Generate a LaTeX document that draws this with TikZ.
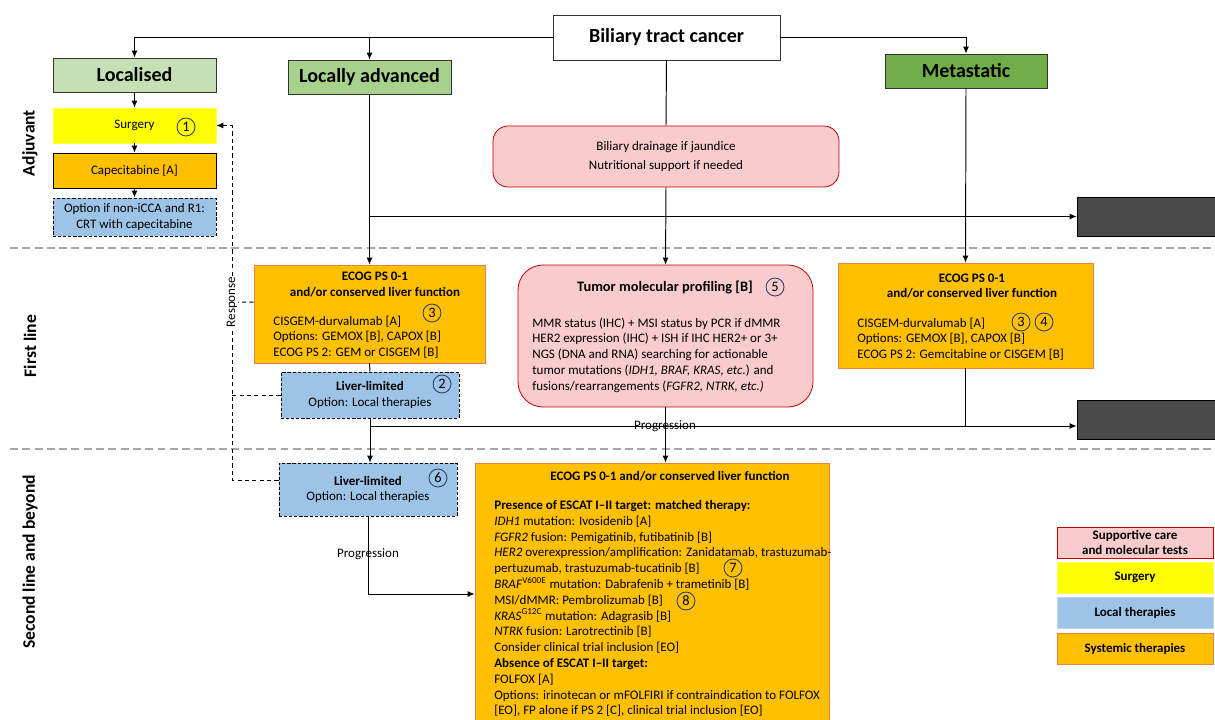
\documentclass[tikz,border=0pt]{standalone}
\usepackage{fontspec}
\setmainfont{Carlito}
\usetikzlibrary{arrows.meta}
\definecolor{stageA}{HTML}{C5E0B4}
\definecolor{stageB}{HTML}{A9D18E}
\definecolor{stageC}{HTML}{70AD47}
\definecolor{surgY}{HTML}{FFFF00}
\definecolor{sysO}{HTML}{FFC000}
\definecolor{sysEdge}{HTML}{E9804A}
\definecolor{locB}{HTML}{9DC3E6}
\definecolor{suppP}{HTML}{F8CBCC}
\definecolor{suppR}{HTML}{C00000}
\definecolor{darkG}{HTML}{4A4A4A}
\definecolor{sepG}{HTML}{A6A6A6}
\definecolor{numB}{HTML}{203864}
\tikzset{
  % testo normale e titoli
  txt/.style={inner sep=0pt, align=left, font=\fontsize{7.4}{9}\selectfont},
  ttl/.style={inner sep=0pt, align=center, font=\fontsize{7.4}{8.6}\selectfont\bfseries},
  % scatole
  box/.style={draw=black, line width=0.45pt, inner sep=1pt, align=center,
    font=\fontsize{7.4}{9}\selectfont},
  stage/.style={box, draw=black!80, fill=#1, minimum width=3.26cm, minimum height=0.68cm,
    font=\fontsize{11.4}{13}\selectfont\bfseries},
  surgbox/.style={box, draw=surgY!70!white, fill=surgY},
  sysbox/.style={box, draw=sysEdge, fill=sysO},
  localbox/.style={box, dash pattern=on 1.8pt off 1.1pt, fill=locB},
  suppbox/.style={box, draw=suppR, fill=suppP, rounded corners=#1},
  darkbox/.style={box, fill=darkG, minimum width=3.26cm, minimum height=0.78cm},
  legbox/.style={box, fill=#1, minimum width=3.12cm, minimum height=0.62cm,
    font=\fontsize{7.4}{8.6}\selectfont\bfseries},
  numc/.style={circle, draw=numB, line width=0.45pt, inner sep=0pt, minimum size=0.36cm,
    font=\fontsize{8.2}{9}\selectfont},
  sect/.style={rotate=90, font=\fontsize{10}{12}\selectfont\bfseries},
  % frecce e linee
  arr/.style={line width=0.55pt, -{Latex[length=4pt,width=3.4pt]}},
  link/.style={line width=0.55pt},
  dasharr/.style={line width=0.55pt, dash pattern=on 2.4pt off 1.8pt, -{Latex[length=4pt,width=3.4pt]}},
  dashlink/.style={line width=0.55pt, dash pattern=on 2.4pt off 1.8pt},
  sepline/.style={sepG, line width=0.7pt, dash pattern=on 4.5pt off 2.5pt},
  lbl/.style={inner sep=0.5pt, font=\fontsize{7.4}{9}\selectfont}
}
\begin{document}
\begin{tikzpicture}[x=0.02cm, y=-0.02cm]
  \useasboundingbox (0,0) rectangle (1215,720);
  \clip (0,0) rectangle (1215,720);

  % separatori delle fasi
  \draw[sepline] (10,248) -- (1215,248);
  \draw[sepline] (10,449) -- (1215,449);
  \node[sect] (sAdj) at (30,143) {Adjuvant};
  \node[sect] (sFirst) at (30,346) {First line};
  \node[sect] (sSecond) at (30,562) {Second line and beyond};

  % diagnosi e stadi
  \node[box, draw=black!80, fill=white, minimum width=4.54cm, minimum height=0.9cm,
    font=\fontsize{11.4}{13}\selectfont\bfseries] (btc) at (666.5,37.5) {Biliary tract cancer};
  \node[stage=stageA] (loc) at (134.5,75) {Localised};
  \node[stage=stageB] (locadv) at (369.5,77) {Locally advanced};
  \node[stage=stageC, minimum width=3.24cm] (meta) at (966,71) {Metastatic};

  % adiuvante
  \node[surgbox, minimum width=3.26cm, minimum height=0.7cm] (surg) at (134.5,125.5) {Surgery};
  \node[numc] (n1) at (186,127) {1};
  \node[box, fill=sysO, minimum width=3.26cm, minimum height=0.7cm] (cape) at (134.5,170.5) {Capecitabine [A]};
  \node[localbox, minimum width=3.26cm, minimum height=0.76cm] (opt) at (134.5,217)
    {Option if non-iCCA and R1:\\CRT with capecitabine};

  \node[suppbox=0.3cm, minimum width=6.92cm, minimum height=1.22cm] (drain) at (666,156.5)
    {Biliary drainage if jaundice\\[2pt]Nutritional support if needed};
  \node[darkbox] (dark1) at (1158.5,216.5) {};

  % prima linea
  \node[sysbox, minimum width=4.62cm, minimum height=1.96cm] (ecogL) at (369.5,314) {};
  \node[ttl] (ecogLt) at (375,284.5) {ECOG PS 0-1\\and/or conserved liver function};
  \node[txt, anchor=west] (ecogLb) at (273,337)
    {CISGEM-durvalumab [A]\\Options: GEMOX [B], CAPOX [B]\\ECOG PS 2: GEM or CISGEM [B]};
  \node[numc] (n3a) at (432,313) {3};

  \node[localbox, minimum width=3.56cm, minimum height=0.92cm] (liv1) at (370,395)
    {\textbf{Liver-limited}\\Option: Local therapies};
  \node[numc] (n2) at (442,384) {2};

  \node[suppbox=0.5cm, minimum width=5.9cm, minimum height=2.84cm] (mol) at (665.5,336) {};
  \node[ttl, font=\fontsize{8.2}{10}\selectfont\bfseries] (molt) at (665,287) {Tumor molecular profiling [B]};
  \node[numc] (n5) at (775,287) {5};
  \node[txt, anchor=west] (molb) at (532,355)
    {MMR status (IHC) + MSI status by PCR if dMMR\\
     HER2 expression (IHC) + ISH if IHC HER2+ or 3+\\
     NGS (DNA and RNA) searching for actionable\\
     tumor mutations (\textit{IDH1, BRAF, KRAS, etc.}) and\\
     fusions/rearrangements (\textit{FGFR2, NTRK, etc.)}};

  \node[sysbox, minimum width=5.1cm, minimum height=2.1cm] (ecogR) at (965.5,315.5) {};
  \node[ttl] (ecogRt) at (972,286) {ECOG PS 0-1\\and/or conserved liver function};
  \node[txt, anchor=west] (ecogRb) at (857,339)
    {CISGEM-durvalumab [A]\\Options: GEMOX [B], CAPOX [B]\\ECOG PS 2: Gemcitabine or CISGEM [B]};
  \node[numc] (n3b) at (1021,322) {3};
  \node[numc] (n4) at (1044,322) {4};

  \node[darkbox] (dark2) at (1158.5,419.5) {};

  % seconda linea
  \node[localbox, minimum width=3.56cm, minimum height=1.06cm] (liv2) at (368,489.5)
    {\textbf{Liver-limited}\\Option: Local therapies};
  \node[numc] (n6) at (438,478) {6};

  \node[sysbox, minimum width=7.08cm, minimum height=5.24cm] (big) at (652,594) {};
  \node[ttl] (bigt) at (670,476) {ECOG PS 0-1 and/or conserved liver function};
  \node[txt, anchor=west] (bigb) at (494,608.5)
    {\textbf{Presence of ESCAT I–II target: matched therapy:}\\
     \textit{IDH1} mutation: Ivosidenib [A]\\
     \textit{FGFR2} fusion: Pemigatinib, futibatinib [B]\\
     \textit{HER2} overexpression/amplification: Zanidatamab, trastuzumab-\\
     pertuzumab, trastuzumab-tucatinib [B]\\
     \textit{BRAF}\textsuperscript{V600E} mutation: Dabrafenib + trametinib [B]\\
     MSI/dMMR: Pembrolizumab [B]\\
     \textit{KRAS}\textsuperscript{G12C} mutation: Adagrasib [B]\\
     \textit{NTRK} fusion: Larotrectinib [B]\\
     Consider clinical trial inclusion [EO]\\
     \textbf{Absence of ESCAT I–II target:}\\
     FOLFOX [A]\\
     Options: irinotecan or mFOLFIRI if contraindication to FOLFOX\\
     {[EO]}, FP alone if PS 2 [C], clinical trial inclusion [EO]};
  \node[numc] (n7) at (733,568) {7};
  \node[numc] (n8) at (686,601) {8};

  % legenda
  \node[legbox=suppP, draw=suppR] (legSupp) at (1135,542.5) {Supportive care\\and molecular tests};
  \node[legbox=surgY, draw=surgY!70!white] (legSurg) at (1135,577.5) {Surgery};
  \node[legbox=locB, draw=locB!70!white] (legLoc) at (1135,613) {Local therapies};
  \node[legbox=sysO, draw=sysEdge] (legSys) at (1135,649) {Systemic therapies};

  % connessioni
  \coordinate (jLA) at (locadv.north |- btc.west);
  \draw[arr] (btc.west) -| (loc.north);
  \draw[arr] (jLA) -- (locadv.north);
  \draw[arr] (btc.east) -| (meta.north);
  \draw[link] (btc.south) -- (drain.north);
  \draw[arr] (drain.south) -- (mol.north);
  \draw[arr] (loc.south) -- (surg.north);
  \draw[arr] (surg.south) -- (cape.north);
  \draw[arr] (cape.south) -- (opt.north);

  \coordinate (jA) at (locadv.south |- dark1.west);
  \draw[arr] (locadv.south) -- (ecogL.north);
  \draw[arr] (jA) -- (dark1.west);
  \draw[arr] (meta.south) -- (ecogR.north);

  \draw[link] (ecogL.south) -- (liv1.north);
  \coordinate (jP) at (liv1.south |- 0,426);
  \draw[arr] (liv1.south) -- (liv1.south |- liv2.north);
  \draw[arr] (jP) -- (jP -| dark2.west);
  \draw[link] (ecogR.south) -- (ecogR.south |- jP);
  \draw[arr] (mol.south) -- (mol.south |- big.north);
  \node[lbl] (prog1) at (665,426) {Progression};

  \draw[arr] (liv2.south) |- (big.west);
  \node[lbl] (prog2) at (368,554) {Progression};

  % risposta: ritorno alla chirurgia
  \coordinate (rsp) at (232,302);
  \draw[dasharr] ([yshift=5.4pt]liv2.west) -| (rsp) |- (surg.east);
  \draw[dashlink] ([yshift=6.8pt]ecogL.west) -- (rsp);
  \draw[dashlink] (liv1.west) -- (liv1.west -| rsp);
  \node[lbl, rotate=90, fill=white] (resp) at (rsp) {Response};
\end{tikzpicture}
\end{document}
